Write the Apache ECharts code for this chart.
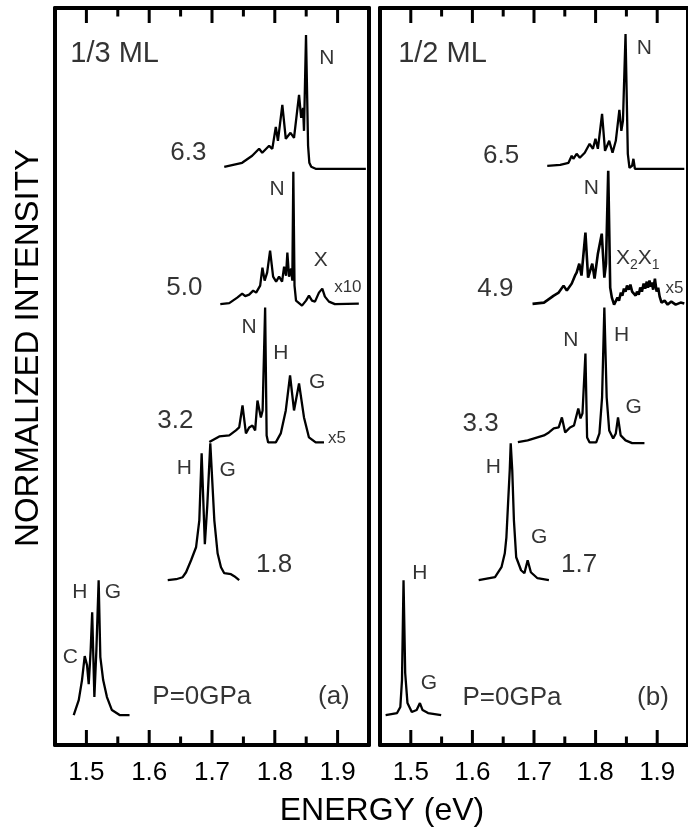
<!DOCTYPE html>
<html>
<head>
<meta charset="utf-8">
<script src="https://cdn.jsdelivr.net/npm/echarts@6/dist/echarts.min.js"></script>
<style>
  html, body { margin: 0; padding: 0; background: #fff; }
  #chart { width: 688px; height: 828px; }
</style>
</head>
<body>
<div id="chart"></div>
<script>
// energy axis (eV)
const energyTicks = [1.5, 1.6, 1.7, 1.8, 1.9];
const minorTicks = [1.55, 1.65, 1.75, 1.85];
const energyMin = 1.45, energyMax = 1.95;
const intensityMax = 73.8;

// spectra: [energy (eV), normalized intensity incl. stacking offset]
// (a) 1/3 ML
const a63 = [[1.7195,57.9],[1.748,58.3],[1.764,59.0],[1.775,59.7],[1.780,59.3],[1.791,60.0],[1.796,59.7],[1.8016,61.9],[1.805,60.5],[1.812,64.1],[1.8175,60.7],[1.825,61.3],[1.8306,60.8],[1.8386,65.1],[1.842,62.8],[1.845,63.8],[1.8465,61.5],[1.8497,71.1],[1.8530,60.0],[1.8550,58.3],[1.858,57.9],[1.865,57.7],[1.945,57.7]];
const a50 = [[1.7132,44.15],[1.7275,44.25],[1.7402,44.8],[1.7481,45.2],[1.7529,44.95],[1.7592,45.1],[1.7656,45.5],[1.7703,45.3],[1.7767,46.0],[1.7803,47.8],[1.7838,46.5],[1.7878,47.3],[1.7925,49.5],[1.7973,46.9],[1.8021,46.4],[1.8068,46.9],[1.8116,46.4],[1.8148,47.9],[1.8179,47.0],[1.8200,49.3],[1.8227,46.9],[1.8259,47.7],[1.8279,46.5],[1.8295,57.4],[1.8314,46.0],[1.8338,44.5],[1.8433,44.0],[1.8497,44.5],[1.8544,45.0],[1.8592,44.5],[1.8640,44.4],[1.8703,45.3],[1.8756,45.7],[1.8798,44.9],[1.8862,44.4],[1.8957,44.15],[1.9338,44.2]];
const a32 = [[1.6957,30.33],[1.7116,30.9],[1.7275,31.0],[1.7381,31.5],[1.7433,31.8],[1.7486,34.0],[1.7540,31.2],[1.7592,31.8],[1.7644,32.0],[1.7687,31.5],[1.7724,34.5],[1.7778,32.8],[1.7806,33.5],[1.7846,43.8],[1.7870,31.0],[1.7894,30.3],[1.8016,30.3],[1.8095,31.2],[1.8175,33.5],[1.8243,37.0],[1.8306,33.5],[1.8386,36.2],[1.8465,32.8],[1.8544,30.8],[1.8651,30.3],[1.8783,30.3]];
const a18 = [[1.6295,16.5],[1.6429,16.6],[1.6533,16.8],[1.6587,17.3],[1.6667,18.5],[1.6746,19.8],[1.6798,22.5],[1.6835,29.2],[1.6886,20.1],[1.6925,24.0],[1.6973,30.2],[1.7037,22.5],[1.7089,19.2],[1.7143,17.8],[1.7195,17.2],[1.7302,17.1],[1.7354,16.9],[1.7433,16.5]];
const a00 = [[1.4798,3.0],[1.4878,4.5],[1.4930,6.5],[1.4973,8.9],[1.5010,8.0],[1.5037,6.1],[1.5068,9.5],[1.5092,13.3],[1.5127,4.8],[1.5159,9.5],[1.5195,16.5],[1.5222,8.8],[1.5267,6.5],[1.5327,4.8],[1.5406,3.5],[1.5529,3.0],[1.5687,3.0]];

// (b) 1/2 ML
const b65 = [[1.7215,58.0],[1.7426,58.1],[1.7560,58.3],[1.7612,59.0],[1.7639,58.7],[1.7692,59.2],[1.7744,58.8],[1.7824,59.3],[1.7903,60.2],[1.7957,59.7],[1.7998,60.7],[1.8037,59.7],[1.8105,63.2],[1.8153,59.5],[1.8221,60.5],[1.8275,59.3],[1.8328,60.5],[1.8386,63.6],[1.8418,61.5],[1.8444,62.5],[1.8486,71.2],[1.8523,59.2],[1.8550,57.8],[1.8593,58.0],[1.8614,58.7],[1.8638,57.7],[1.8725,57.7],[1.9440,57.7]];
const b49 = [[1.6976,44.17],[1.7162,44.3],[1.7321,45.0],[1.7401,45.3],[1.7480,46.0],[1.7533,45.5],[1.7612,46.2],[1.7665,47.0],[1.7692,47.3],[1.7735,48.2],[1.7771,47.0],[1.7835,51.3],[1.7878,46.8],[1.7946,48.2],[1.7983,46.7],[1.8037,49.2],[1.8100,51.2],[1.8142,46.8],[1.8169,48.2],[1.8205,57.5],[1.8237,45.8],[1.8264,44.8],[1.8300,44.1],[1.8328,44.2],[1.8355,44.8],[1.8380,44.5],[1.8410,45.3],[1.8434,45.0],[1.8460,45.7],[1.8486,45.4],[1.8510,46.0],[1.8539,45.6],[1.8565,46.1],[1.8593,45.4],[1.8620,45.6],[1.8650,45.0],[1.8672,45.4],[1.8700,45.1],[1.8725,45.8],[1.8752,45.4],[1.8780,46.2],[1.8805,45.7],[1.8831,46.4],[1.8850,45.8],[1.8875,46.5],[1.8895,45.9],[1.8911,46.3],[1.8935,45.6],[1.8963,46.7],[1.8990,45.4],[1.9016,45.8],[1.9040,44.9],[1.9070,44.3],[1.9120,44.5],[1.9170,44.1],[1.9229,44.4],[1.9300,44.1],[1.9380,44.3],[1.9440,44.2]];
const b33 = [[1.6738,30.33],[1.6897,30.5],[1.7056,30.8],[1.7162,31.0],[1.7242,31.3],[1.7321,31.7],[1.7401,31.8],[1.7453,32.8],[1.7506,31.3],[1.7585,31.8],[1.7649,32.0],[1.7719,33.7],[1.7755,32.7],[1.7787,33.2],[1.7835,39.2],[1.7862,30.8],[1.7903,30.3],[1.8010,30.3],[1.8062,31.2],[1.8105,34.8],[1.8142,43.8],[1.8180,34.8],[1.8221,31.5],[1.8285,30.7],[1.8328,31.2],[1.8364,32.8],[1.8407,31.0],[1.8486,30.5],[1.8593,30.23],[1.8793,30.23]];
const b17 = [[1.6102,16.5],[1.6367,16.8],[1.6472,17.8],[1.6526,19.2],[1.6552,20.8],[1.6579,24.2],[1.6606,27.5],[1.6622,30.2],[1.6647,27.5],[1.6674,22.5],[1.6711,18.8],[1.6790,17.5],[1.6844,17.2],[1.6897,18.5],[1.6949,17.3],[1.7056,16.7],[1.7242,16.5]];
const b00 = [[1.4591,3.0],[1.4777,3.2],[1.4830,3.8],[1.4857,6.5],[1.4882,16.5],[1.4909,7.2],[1.4946,4.2],[1.5016,3.3],[1.5095,3.5],[1.5148,4.2],[1.5191,3.5],[1.5280,3.2],[1.5493,3.0]];

// annotations: [energy, intensity, text]
const titleA = [[1.5449, 69.2, '1/3 ML']];
const titleB = [[1.5514, 69.2, '1/2 ML']];
const pressureA = [[1.6624,59.3,'6.3'],[1.6560,45.8,'5.0'],[1.6417,32.5,'3.2'],[1.7989,18.0,'1.8'],[1.6838,4.8,'P=0GPa'],[1.8941,4.8,'(a)']];
const pressureB = [[1.6467,59.0,'6.5'],[1.6372,45.7,'4.9'],[1.6134,32.2,'3.3'],[1.7731,18.0,'1.7'],[1.6642,4.7,'P=0GPa'],[1.8932,4.7,'(b)']];
const peaksA = [[1.8830,68.8,'N'],[1.8037,55.7,'N'],[1.8730,48.5,'X'],[1.7592,41.8,'N'],[1.8095,39.2,'H'],[1.8676,36.3,'G'],[1.6560,27.7,'H'],[1.7248,27.5,'G'],[1.4746,8.8,'C'],[1.4894,15.3,'H'],[1.5422,15.3,'G']];
const peaksB = [[1.8793,69.8,'N'],[1.7930,55.8,'N'],[1.7596,40.5,'N'],[1.8423,41.0,'H'],[1.8618,33.8,'G'],[1.6340,27.8,'H'],[1.7083,20.8,'G'],[1.5148,17.2,'H'],[1.5296,6.2,'G']];
const excitonB = [[1.8685, 48.7, 'X2X1']];
const gainsA = [[1.9163,45.8,'x10'],[1.8989,30.7,'x5']];
const gainsB = [[1.9281,45.7,'x5']];

const FONT = '"Liberation Sans", Arial, Helvetica, sans-serif';
const LINE = { color: '#000', width: 4 };
const chart = echarts.init(document.getElementById('chart'));

const panelLeft = [55, 380];
const grids = [], xAxes = [], yAxes = [];

// two panels; the frame comes from the axis lines, energy labels on the bottom axis
panelLeft.forEach((left, gi) => {
  grids.push({ left: left, top: 8, width: 314, height: 737, show: false });
  const xb = {
    type: 'value', gridIndex: gi, min: energyMin, max: energyMax, z: 10,
    splitLine: { show: false }, axisTick: { show: false },
    axisLine: { show: true, onZero: false, lineStyle: LINE }
  };
  xAxes.push(Object.assign({}, xb, { position: 'bottom',
    axisLabel: { show: true, customValues: energyTicks, fontSize: 26, margin: 15, color: '#000', fontFamily: FONT, formatter: v => v.toFixed(1) } }));
  xAxes.push(Object.assign({}, xb, { position: 'top', axisLabel: { show: false } }));
  const yb = {
    type: 'value', gridIndex: gi, min: 0, max: intensityMax, z: 10,
    axisLine: { show: true, onZero: false, lineStyle: LINE },
    axisTick: { show: false }, axisLabel: { show: false }, splitLine: { show: false }
  };
  yAxes.push(Object.assign({}, yb, { position: 'left' }));
  yAxes.push(Object.assign({}, yb, { position: 'right' }));
});

// inward tick marks on the bottom and top frame: short vertical segments
// at each tick energy, running from the frame into the panel
function tickSeries(vals, gi, len) {
  const out = [];
  vals.forEach(e => {
    [[0, len], [intensityMax, intensityMax - len]].forEach(([y0, y1]) => {
      out.push({
        type: 'line', xAxisIndex: gi * 2, yAxisIndex: gi * 2,
        data: [[e, y0], [e, y1]], symbol: 'none', silent: true, z: 4,
        lineStyle: { color: '#000', width: 3, cap: 'butt' }
      });
    });
  });
  return out;
}

function spec(data, gi, w) {
  return {
    type: 'line', xAxisIndex: gi * 2, yAxisIndex: gi * 2, data: data,
    symbol: 'none', lineStyle: { color: '#000', width: w || 2.3 }, z: 3
  };
}

function text(items, gi, size, rich) {
  return {
    type: 'scatter', xAxisIndex: gi * 2, yAxisIndex: gi * 2, data: items,
    symbolSize: 1, itemStyle: { color: 'rgba(0,0,0,0)' }, silent: true, z: 5,
    label: {
      show: true, position: 'inside', color: '#000', fontSize: size, fontFamily: FONT,
      formatter: rich ? (p => p.data[2].replace(/X(\d)/g, '{b|X}{s|$1}')) : (p => p.data[2]),
      rich: rich || {}
    }
  };
}

const subRich = {
  b: { fontSize: 21, fontFamily: FONT, color: '#000', lineHeight: 24 },
  s: { fontSize: 14, fontFamily: FONT, color: '#000', lineHeight: 24, padding: [12, 0, 0, 0] }
};

let series = [
  spec(a63, 0), spec(a50, 0), spec(a32, 0), spec(a18, 0), spec(a00, 0),
  spec(b65, 1), spec(b49, 1, 2.6), spec(b33, 1), spec(b17, 1), spec(b00, 1),
  text(titleA, 0, 29), text(titleB, 1, 29),
  text(pressureA, 0, 26), text(pressureB, 1, 26),
  text(peaksA, 0, 21), text(peaksB, 1, 21),
  text(gainsA, 0, 17), text(gainsB, 1, 17),
  text(excitonB, 1, 21, subRich)
];
[0, 1].forEach(gi => {
  series = series.concat(tickSeries(energyTicks, gi, 1.5), tickSeries(minorTicks, gi, 0.85));
});

chart.setOption({
  animation: false,
  backgroundColor: '#fff',
  grid: grids,
  xAxis: xAxes,
  yAxis: yAxes,
  series: series,
  graphic: [
    { type: 'text', x: 29, y: 348, rotation: Math.PI / 2,
      style: { text: 'NORMALIZED INTENSITY', fontSize: 33, fontFamily: FONT, fill: '#000', align: 'center', verticalAlign: 'middle' } },
    { type: 'text', x: 382, y: 811,
      style: { text: 'ENERGY (eV)', fontSize: 32, fontFamily: FONT, fill: '#000', align: 'center', verticalAlign: 'middle' } }
  ]
});
</script>
</body>
</html>
